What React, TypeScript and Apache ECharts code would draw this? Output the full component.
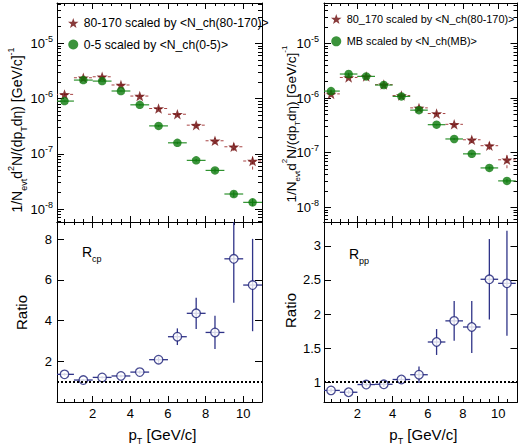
import React, { useEffect, useRef } from "react";
import * as echarts from "echarts";

// ---------------- data ----------------
const pT = [0.5, 1.5, 2.5, 3.5, 4.5, 5.5, 6.5, 7.5, 8.5, 9.5, 10.5];
const BIN_HALF = 0.5;

const yield80170 = [1.19e-6, 2.38e-6, 2.48e-6, 1.76e-6, 1.11e-6, 6.6e-7, 5.2e-7, 3.3e-7, 1.72e-7, 1.34e-7, 7.4e-8];
const yield80170RelErr = [0.04, 0.03, 0.03, 0.04, 0.05, 0.07, 0.08, 0.1, 0.13, 0.16, 0.3];
const yield05 = [9.0e-7, 2.16e-6, 2.07e-6, 1.37e-6, 7.7e-7, 3.2e-7, 1.58e-7, 7.6e-8, 5.0e-8, 1.87e-8, 1.32e-8];
const yield05RelErr = [0.02, 0.02, 0.02, 0.02, 0.03, 0.04, 0.05, 0.06, 0.08, 0.12, 0.15];
const yieldMB = [1.34e-6, 2.75e-6, 2.49e-6, 1.73e-6, 1.07e-6, 6.0e-7, 3.25e-7, 1.78e-7, 9.5e-8, 5.25e-8, 3.04e-8];
const yieldMBRelErr = [0.02, 0.02, 0.02, 0.02, 0.02, 0.03, 0.03, 0.04, 0.05, 0.06, 0.08];

const rcp = [1.36, 1.08, 1.21, 1.28, 1.47, 2.08, 3.21, 4.36, 3.42, 7.04, 5.75];
const rcpErr = [0.06, 0.05, 0.05, 0.06, 0.08, 0.15, 0.41, 0.77, 0.82, 2.16, 2.27];
const rpp = [0.88, 0.853, 0.966, 0.97, 1.04, 1.11, 1.59, 1.9, 1.81, 2.51, 2.45];
const rppErr = [0.03, 0.03, 0.03, 0.04, 0.05, 0.12, 0.19, 0.29, 0.38, 0.59, 0.77];

const xMajor = [2, 4, 6, 8, 10];
const xMinor = [0.5, 1, 1.5, 2.5, 3, 3.5, 4.5, 5, 5.5, 6.5, 7, 7.5, 8.5, 9, 9.5, 10.5];
const logMajor = [-8, -7, -6, -5];
const rcpTicks = [2, 4, 6, 8];
const rppTicks = [1, 1.5, 2, 2.5, 3];

const legendLeft = ["80-170 scaled by <N_ch(80-170)>", "0-5 scaled by <N_ch(0-5)>"];
const legendRight = ["80_170 scaled by <N_ch(80-170)>", "MB scaled by <N_ch(MB)>"];

// ---------------- style ----------------
const FONT = "'Liberation Sans', Arial, Helvetica, sans-serif";
const BLACK = "#000";
const RED = "#6c0a0a";
const RED_ERR = "#a84444";
const GREEN = "#0a780a";
const GREEN_ERR = "#2f922f";
const NAVY = "#1d2078";
const NAVY_ERR = "#2f3388";
const STAR =
  "path://M0,-10 L2.35,-3.24 L9.51,-3.09 L3.8,1.24 L5.88,8.09 L0,4 L-5.88,8.09 L-3.8,1.24 L-9.51,-3.09 L-2.35,-3.24 Z";

function logMinor(min: number, max: number) {
  const out: number[] = [];
  for (let n = -10; n <= -3; n++) {
    for (let k = 2; k <= 9; k++) {
      const v = n + Math.log10(k);
      if (v > min && v < max) out.push(v);
    }
  }
  return out;
}

function xSet(grid: number, min: number, max: number, labels: boolean) {
  const mk = (position: string, showLine: boolean, vals: number[], len: number, lbl: boolean) => ({
    type: "value",
    gridIndex: grid,
    min,
    max,
    position,
    splitLine: { show: false },
    axisLine: { show: showLine, onZero: false, lineStyle: { color: BLACK, width: 1 } },
    axisTick: { show: true, inside: true, length: len, customValues: vals, lineStyle: { color: BLACK, width: 1 } },
    axisLabel: lbl
      ? { show: true, customValues: xMajor, margin: 5, fontSize: 13, fontFamily: FONT, color: BLACK }
      : { show: false },
  });
  return [
    mk("bottom", true, xMajor, 6, labels),
    mk("bottom", false, xMinor, 3, false),
    mk("top", true, xMajor, 6, false),
    mk("top", false, xMinor, 3, false),
  ];
}

function ySet(grid: number, min: number, max: number, major: number[], minor: number[] | null, label: any) {
  const mk = (position: string, showLine: boolean, vals: number[] | null, len: number, lbl: any) => ({
    type: "value",
    gridIndex: grid,
    min,
    max,
    position,
    splitLine: { show: false },
    axisLine: { show: showLine, onZero: false, lineStyle: { color: BLACK, width: 1 } },
    axisTick: vals
      ? { show: true, inside: true, length: len, customValues: vals, lineStyle: { color: BLACK, width: 1 } }
      : { show: false },
    axisLabel: lbl ? lbl : { show: false },
  });
  return [
    mk("left", true, major, 7, label),
    mk("left", false, minor, 4, null),
    mk("right", true, major, 7, null),
    mk("right", false, minor, 4, null),
  ];
}

const logLabel = (margin: number, values: number[]) => ({
  show: true,
  customValues: values,
  margin,
  fontFamily: FONT,
  color: BLACK,
  formatter: (v: number) => `{b|10}{e|${Math.round(v)}}`,
  rich: {
    b: { fontSize: 13, lineHeight: 18, fontFamily: FONT, color: BLACK, verticalAlign: "middle" },
    e: { fontSize: 9, lineHeight: 10, fontFamily: FONT, color: BLACK, verticalAlign: "top" },
  },
});

const numLabel = (margin: number, values: number[]) => ({
  show: true,
  customValues: values,
  margin,
  fontSize: 13,
  fontFamily: FONT,
  color: BLACK,
});

function errSeries(grid: number, data: number[][], color: string, dash: number[] | null, width: number) {
  return {
    type: "custom",
    xAxisIndex: grid * 4,
    yAxisIndex: grid * 4,
    clip: true,
    silent: true,
    encode: { x: 0, y: 1 },
    data,
    renderItem: (_p: any, api: any) => {
      const x = api.value(0);
      const y = api.value(1);
      const lo = api.value(2);
      const hi = api.value(3);
      const a = api.coord([x - BIN_HALF, y]);
      const b = api.coord([x + BIN_HALF, y]);
      const c = api.coord([x, lo]);
      const d = api.coord([x, hi]);
      const style: any = { stroke: color, lineWidth: width, fill: null };
      if (dash) style.lineDash = dash;
      return {
        type: "group",
        children: [
          { type: "line", shape: { x1: a[0], y1: a[1], x2: b[0], y2: b[1] }, style },
          { type: "line", shape: { x1: c[0], y1: c[1], x2: d[0], y2: d[1] }, style },
        ],
      };
    },
  };
}

const logErrData = (vals: number[], rel: number[]) =>
  pT.map((x, i) => [x, Math.log10(vals[i]), Math.log10(vals[i] * (1 - rel[i])), Math.log10(vals[i] * (1 + rel[i]))]);
const linErrData = (vals: number[], err: number[]) => pT.map((x, i) => [x, vals[i], vals[i] - err[i], vals[i] + err[i]]);
const logPoints = (vals: number[]) => pT.map((x, i) => [x, Math.log10(vals[i])]);
const linPoints = (vals: number[]) => pT.map((x, i) => [x, vals[i]]);

function scatter(grid: number, name: string, data: number[][], symbol: string, size: any, itemStyle: any) {
  return {
    type: "scatter",
    name,
    xAxisIndex: grid * 4,
    yAxisIndex: grid * 4,
    data,
    symbol,
    symbolSize: size,
    itemStyle,
    silent: true,
  };
}

function refLine(grid: number) {
  return {
    type: "line",
    xAxisIndex: grid * 4,
    yAxisIndex: grid * 4,
    data: [],
    silent: true,
    markLine: {
      silent: true,
      symbol: "none",
      label: { show: false },
      lineStyle: { color: BLACK, width: 2, type: [2, 2] },
      data: [{ yAxis: 1 }],
    },
  };
}

const richBase = (size: number) => ({
  n: { fontSize: size, lineHeight: size + 8, fontFamily: FONT, fill: BLACK, verticalAlign: "middle" },
  sub: { fontSize: Math.round(size * 0.62), lineHeight: 10, fontFamily: FONT, fill: BLACK, verticalAlign: "bottom" },
  sup: { fontSize: Math.round(size * 0.62), lineHeight: 13, fontFamily: FONT, fill: BLACK, verticalAlign: "top" },
});

function txt(text: string, x: number, y: number, size: number, rotate: boolean, align = "center") {
  return {
    type: "text",
    x,
    y,
    rotation: rotate ? Math.PI / 2 : 0,
    silent: true,
    style: {
      text,
      rich: richBase(size),
      fontSize: size,
      fontFamily: FONT,
      fill: BLACK,
      align,
      verticalAlign: "middle",
    },
  };
}

const yTitle = "{n|1/N}{sub|evt}{n|d}{sup|2}{n|N/(dp}{sub|T}{n|dη) [GeV/c]}{sup|-1}";
const xTitle = "{n|p}{sub|T}{n| [GeV/c]}";

export default function App() {
  const ref = useRef<HTMLDivElement>(null);
  useEffect(() => {
    if (!ref.current) return;
    const chart = echarts.init(ref.current, null, { renderer: "svg" });
    const L0 = [-8.235, -4.27];
    const L2 = [-8.27, -4.26];
    const option: any = {
      animation: false,
      backgroundColor: "#fff",
      grid: [
        { left: 57, top: 3, width: 205, height: 219 },
        { left: 57, top: 222, width: 205, height: 180 },
        { left: 324, top: 3, width: 193.5, height: 219 },
        { left: 324, top: 222, width: 193.5, height: 180 },
      ],
      xAxis: [
        ...xSet(0, 0.1, 11.0, false),
        ...xSet(1, 0.1, 11.0, true),
        ...xSet(2, 0.1, 11.1, false),
        ...xSet(3, 0.1, 11.1, true),
      ],
      yAxis: [
        ...ySet(0, L0[0], L0[1], logMajor, logMinor(L0[0], L0[1]), logLabel(4, logMajor)),
        ...ySet(1, 0, 8.85, rcpTicks, null, numLabel(5, rcpTicks)),
        ...ySet(2, L2[0], L2[1], logMajor, logMinor(L2[0], L2[1]), logLabel(5, logMajor)),
        ...ySet(3, 0.71, 3.35, rppTicks, null, numLabel(3, rppTicks)),
      ],
      legend: [
        {
          data: legendLeft,
          left: 68,
          top: 17,
          orient: "vertical",
          itemGap: 9.5,
          itemWidth: 11,
          itemHeight: 10,
          padding: 0,
          selectedMode: false,
          textStyle: { fontSize: 12.2, fontFamily: FONT, color: BLACK },
        },
        {
          data: legendRight,
          left: 331,
          top: 13.5,
          orient: "vertical",
          itemGap: 11.3,
          itemWidth: 11,
          itemHeight: 10,
          padding: 0,
          selectedMode: false,
          textStyle: { fontSize: 10.9, fontFamily: FONT, color: BLACK },
        },
      ],
      series: [
        // top-left
        errSeries(0, logErrData(yield80170, yield80170RelErr), RED_ERR, [3, 2], 1),
        scatter(0, legendLeft[0], logPoints(yield80170), STAR, [11, 10.5], { color: RED }),
        errSeries(0, logErrData(yield05, yield05RelErr), GREEN_ERR, null, 1.2),
        scatter(0, legendLeft[1], logPoints(yield05), "circle", 8.5, { color: GREEN }),
        // bottom-left
        refLine(1),
        errSeries(1, linErrData(rcp, rcpErr), NAVY_ERR, null, 1.3),
        scatter(1, "Rcp", linPoints(rcp), "circle", 8.5, { color: "#fff", borderColor: NAVY, borderWidth: 1.3 }),
        // top-right
        errSeries(2, logErrData(yield80170, yield80170RelErr), RED_ERR, [3, 2], 1),
        scatter(2, legendRight[0], logPoints(yield80170), STAR, [11, 10.5], { color: RED }),
        errSeries(2, logErrData(yieldMB, yieldMBRelErr), GREEN_ERR, null, 1.2),
        scatter(2, legendRight[1], logPoints(yieldMB), "circle", 8.5, { color: GREEN }),
        // bottom-right
        refLine(3),
        errSeries(3, linErrData(rpp, rppErr), NAVY_ERR, null, 1.3),
        scatter(3, "Rpp", linPoints(rpp), "circle", 8.5, { color: "#fff", borderColor: NAVY, borderWidth: 1.3 }),
      ],
      graphic: [
        txt(yTitle, 17, 130, 14, true),
        txt(yTitle, 291, 124, 13.5, true),
        txt("{n|Ratio}", 21.5, 312.5, 15, true),
        txt("{n|Ratio}", 290.5, 310.5, 15, true),
        txt(xTitle, 162.5, 434, 15, false),
        txt(xTitle, 423.3, 434, 15, false),
        txt("{n|R}{sub|cp}", 82, 252, 14, false, "left"),
        txt("{n|R}{sub|pp}", 349, 254, 14, false, "left"),
      ],
    };
    chart.setOption(option);
    return () => chart.dispose();
  }, []);
  return <div ref={ref} style={{ position: "absolute", left: 0, top: 0, width: 518, height: 447 }} />;
}
